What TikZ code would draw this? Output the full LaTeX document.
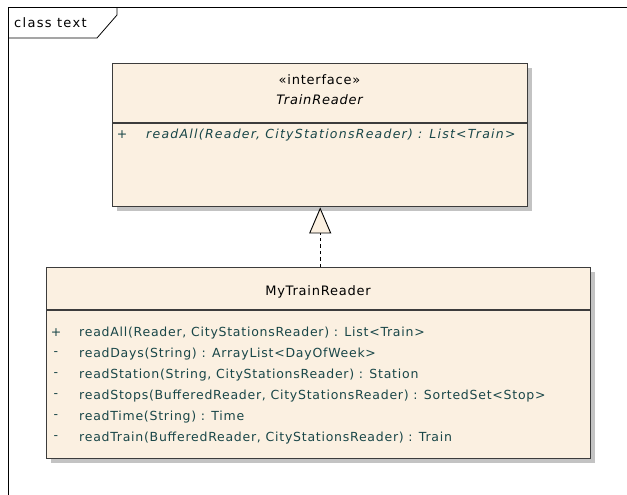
\documentclass[tikz,border=0pt]{standalone}
\usepackage{fontspec}
\setmainfont{DejaVu Sans}[LetterSpace=6]
\newfontfamily\widefont{DejaVu Sans}[LetterSpace=10]
\usetikzlibrary{positioning,arrows.meta}

\definecolor{classfill}{RGB}{251,240,225}
\definecolor{classline}{RGB}{60,60,60}
\definecolor{optext}{RGB}{25,70,72}
\definecolor{shade}{RGB}{195,195,195}

\begin{document}
\begin{tikzpicture}
        [x=1pt, y=-1pt,
         classbox/.style={draw=classline, line width=1.4pt, fill=classfill, anchor=north west, inner sep=0pt},
         shadowbox/.style={fill=shade, anchor=north west, inner sep=0pt},
         title/.style={font=\fontsize{13}{15}\selectfont, text=black, inner sep=0pt},
         op/.style={font=\fontsize{12.5}{14}\selectfont, text=optext, anchor=west, inner sep=0pt},
         vis/.style={font=\fontsize{12.5}{14}\selectfont, text=optext, inner sep=0pt}]
        \useasboundingbox (0,0) rectangle (627,495);

        % frame with its name tab
        \draw[line width=1pt] (627,8) -- (8,8) -- (8,495);
        \node[font=\widefont\fontsize{13}{15}\selectfont, anchor=west, inner sep=0pt] (frame) at (14,23) {class text};
        \draw[line width=0.8pt] (8,38) -- (97,38) -- (117,15) -- (117,8);

        % interface TrainReader
        \node[shadowbox, minimum width=415pt, minimum height=143pt] at (117,68) {};
        \node[classbox, minimum width=415pt, minimum height=143pt] (iface) at (112,63) {};
        \draw[classline, line width=1.4pt] (112,123) -- (527,123);
        \node[title] (stereo) at (319.5,80) {«interface»};
        \node[title, font=\fontsize{13}{15}\selectfont\itshape] (ifacename) at (319.5,100) {TrainReader};
        \node[vis] (p0) at (122,135) {+};
        \node[op, font=\widefont\fontsize{12.5}{14}\selectfont\itshape] (m0) at (146,135) {readAll(Reader, CityStationsReader) : List<Train>};

        % class MyTrainReader
        \node[shadowbox, minimum width=544pt, minimum height=191pt] at (51,272) {};
        \node[classbox, minimum width=544pt, minimum height=191pt] (impl) at (46,267) {};
        \draw[classline, line width=1.4pt] (46,310) -- (590,310);
        \node[title] (implname) at (318,292) {MyTrainReader};
        \foreach \v/\m [count=\i] in {
            +/{readAll(Reader, CityStationsReader) : List<Train>},
            -/{readDays(String) : ArrayList<DayOfWeek>},
            -/{readStation(String, CityStationsReader) : Station},
            -/{readStops(BufferedReader, CityStationsReader) : SortedSet<Stop>},
            -/{readTime(String) : Time},
            -/{readTrain(BufferedReader, CityStationsReader) : Train}}
        {
            \node[vis] (v\i) at (56,312+21*\i) {\v};
            \node[op] (op\i) at (79,312+21*\i) {\m};
        }

        % realization
        \draw[line width=0.9pt, dash pattern=on 3.5pt off 3pt,
              -{Triangle[open, fill=classfill, width=22pt, length=26pt]}]
            (impl.north -| iface.south) -- (iface.south);
    \end{tikzpicture}
\end{document}
